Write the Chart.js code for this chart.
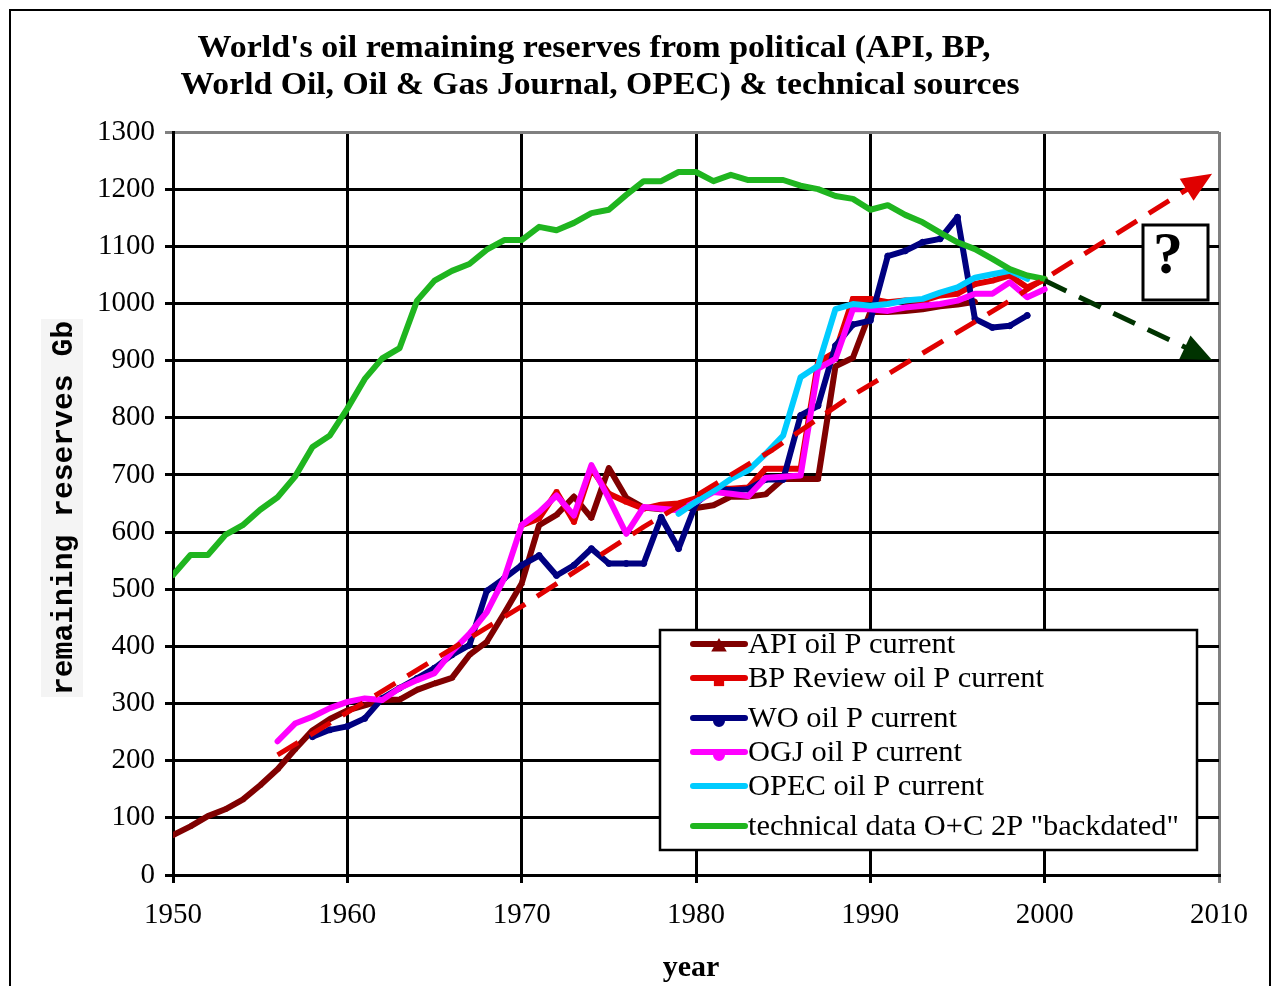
<!DOCTYPE html>
<html>
<head>
<meta charset="utf-8">
<script src="https://cdn.jsdelivr.net/npm/chart.js@4"></script>
<style>
  body { margin: 0; background: #fff; }
  canvas { display: block; }
</style>
</head>
<body>
<canvas id="oilChart" width="1277" height="986"></canvas>
<script>
// reserves in Gb
const apiYears = [1950,1951,1952,1953,1954,1955,1956,1957,1958,1959,1960,1961,1962,1963,1964,1965,1966,1967,1968,1969,1970,1971,1972,1973,1974,1975,1976,1977,1978,1979,1980,1981,1982,1983,1984,1985,1986,1987,1988,1989,1990,1991,1992,1993,1994,1995,1996];
const apiVals = [70,85,103,115,132,157,185,220,253,273,288,297,306,307,324,335,345,385,408,458,510,612,630,662,625,712,660,643,640,642,642,647,662,662,666,693,693,693,890,905,985,985,987,990,995,998,1003];

const bpYears = [1970,1971,1972,1973,1974,1975,1976,1977,1978,1979,1980,1981,1982,1983,1984,1985,1986,1987,1988,1989,1990,1991,1992,1993,1994,1995,1996,1997,1998,1999,2000];
const bpVals = [612,624,670,618,711,667,653,641,648,650,659,676,676,678,711,711,711,897,915,1008,1008,1002,1005,1005,1014,1017,1034,1040,1049,1028,1042];

const woYears = [1958,1959,1960,1961,1962,1963,1964,1965,1966,1967,1968,1969,1970,1971,1972,1973,1974,1975,1976,1977,1978,1979,1980,1981,1982,1983,1984,1985,1986,1987,1988,1989,1990,1991,1992,1993,1994,1995,1996,1997,1998,1999];
const woVals = [242,254,260,274,309,327,344,362,385,402,497,519,542,559,524,542,571,545,545,545,626,571,650,676,673,675,692,692,804,821,926,963,970,1083,1092,1107,1113,1151,973,958,961,979];

const ogjYears = [1956,1957,1958,1959,1960,1961,1962,1963,1964,1965,1966,1967,1968,1969,1970,1971,1972,1973,1974,1975,1976,1977,1978,1979,1980,1981,1982,1983,1984,1985,1986,1987,1988,1989,1990,1991,1992,1993,1994,1995,1996,1997,1998,1999,2000];
const ogjVals = [234,265,277,292,303,309,306,327,341,353,391,422,460,519,612,635,664,629,717,659,597,644,641,638,653,670,667,663,695,697,699,886,903,990,990,987,993,996,999,1005,1017,1017,1037,1011,1025];

const opecYears = [1979,1980,1981,1982,1983,1984,1985,1986,1987,1988,1989,1990,1991,1992,1993,1994,1995,1996,1997,1998,1999];
const opecVals = [632,653,672,693,708,737,769,871,891,990,999,996,999,1005,1008,1019,1028,1045,1051,1057,1043];

const techYears = [1950,1951,1952,1953,1954,1955,1956,1957,1958,1959,1960,1961,1962,1963,1964,1965,1966,1967,1968,1969,1970,1971,1972,1973,1974,1975,1976,1977,1978,1979,1980,1981,1982,1983,1984,1985,1986,1987,1988,1989,1990,1991,1992,1993,1994,1995,1996,1997,1998,1999,2000];
const techVals = [525,560,560,595,612,639,661,697,749,769,816,868,904,922,1005,1040,1057,1069,1094,1111,1111,1134,1128,1141,1158,1164,1190,1214,1214,1230,1230,1214,1225,1216,1216,1216,1206,1200,1188,1183,1164,1172,1155,1142,1124,1107,1095,1078,1060,1049,1043];

// hand-drawn arrows (last point = arrow tip)
const upYears = [1956,1970,1977,1984.4,1988.8,1997.8,2009.6];
const upVals = [210,470,609,744,836,1001,1227];
const downYears = [2000,2009.6];
const downVals = [1040,901];

const labels = ['API oil P current','BP Review oil P current','WO oil P current','OGJ oil P current','OPEC oil P current','technical data O+C 2P "backdated"'];

const pts = (xs, ys) => xs.map((x, i) => ({ x: x, y: ys[i] }));

const SERIF = '"Liberation Serif", "Times New Roman", serif';

function series(label, xs, ys, color, order, pointStyle, radius) {
    return {
        label: label,
        data: pts(xs, ys),
        borderColor: color,
        backgroundColor: color,
        borderWidth: 6,
        pointStyle: pointStyle || 'circle',
        pointRadius: radius || 0,
        pointBorderWidth: 1,
        order: order,
        tension: 0
    };
}

function arrow(xs, ys, color, order) {
    return {
        label: '',
        isArrow: true,
        data: pts(xs, ys),
        borderColor: color,
        backgroundColor: color,
        borderWidth: 5,
        borderDash: [24, 14],
        borderCapStyle: 'butt',
        pointRadius: 0,
        order: order
    };
}

const datasets = [
    series(labels[0], apiYears, apiVals, '#800000', 7, 'triangle', 3),
    series(labels[1], bpYears, bpVals, '#e00000', 6, 'rect', 3),
    series(labels[2], woYears, woVals, '#000080', 5, 'circle', 3),
    series(labels[3], ogjYears, ogjVals, '#ff00ff', 4, 'circle', 2),
    series(labels[4], opecYears, opecVals, '#00ccff', 3),
    series(labels[5], techYears, techVals, '#1fb51f', 2),
    arrow(upYears, upVals, '#e00000', 1),
    arrow(downYears, downVals, '#003300', 1)
];

function fitText(ctx, text, cx, cy, width) {
    const w = ctx.measureText(text).width;
    ctx.save();
    ctx.translate(cx, cy);
    ctx.scale(width / w, 1);
    ctx.fillText(text, 0, 0);
    ctx.restore();
}

const decor = {
    id: 'decor',
    beforeDraw(chart) {
        const ctx = chart.ctx;
        ctx.save();
        ctx.fillStyle = '#fff';
        ctx.fillRect(0, 0, chart.width, chart.height);
        // grey strip behind the y title
        ctx.fillStyle = '#f4f4f4';
        ctx.fillRect(41, 319, 42, 378);
        ctx.restore();
    },
    afterDatasetsDraw(chart) {
        // arrow heads at the end of the hand-drawn arrows
        const ctx = chart.ctx;
        const xs = chart.scales.x, ys = chart.scales.y;
        chart.data.datasets.forEach(ds => {
            if (!ds.isArrow) return;
            const n = ds.data.length;
            const tip = ds.data[n - 1], prev = ds.data[n - 2];
            const tx = xs.getPixelForValue(tip.x), ty = ys.getPixelForValue(tip.y);
            const px = xs.getPixelForValue(prev.x), py = ys.getPixelForValue(prev.y);
            const a = Math.atan2(ty - py, tx - px);
            const len = 30, half = 13;
            ctx.save();
            ctx.translate(tx, ty);
            ctx.rotate(a);
            ctx.fillStyle = ds.borderColor;
            ctx.beginPath();
            ctx.moveTo(0, 0);
            ctx.lineTo(-len, -half);
            ctx.lineTo(-len, half);
            ctx.closePath();
            ctx.fill();
            ctx.restore();
        });
    },
    afterDraw(chart) {
        const ctx = chart.ctx;
        ctx.save();
        // outer frame
        ctx.strokeStyle = '#000';
        ctx.lineWidth = 2;
        ctx.strokeRect(10, 10, 1260, 990);

        // title
        ctx.fillStyle = '#000';
        ctx.textAlign = 'center';
        ctx.textBaseline = 'middle';
        ctx.font = 'bold 31px ' + SERIF;
        fitText(ctx, "World's oil remaining reserves from political (API, BP,", 594, 49, 793);
        fitText(ctx, 'World Oil, Oil & Gas Journal, OPEC) & technical sources', 600, 86, 839);

        // axis titles
        ctx.font = 'bold 30px ' + SERIF;
        ctx.fillText('year', 691, 968);
        ctx.save();
        ctx.translate(64, 508);
        ctx.rotate(-Math.PI / 2);
        ctx.font = 'bold 30px "Liberation Mono", "DejaVu Sans Mono", monospace';
        fitText(ctx, 'remaining reserves Gb', 0, 0, 374);
        ctx.restore();

        // question box
        ctx.fillStyle = '#fff';
        ctx.fillRect(1143, 225, 65, 75);
        ctx.lineWidth = 3;
        ctx.strokeRect(1143, 225, 65, 75);
        ctx.fillStyle = '#000';
        ctx.font = 'bold 60px ' + SERIF;
        ctx.fillText('?', 1168, 257);

        // legend
        ctx.fillStyle = '#fff';
        ctx.fillRect(660, 630, 537, 220);
        ctx.lineWidth = 2.5;
        ctx.strokeRect(660, 630, 537, 220);
        const rows = [644, 678, 718, 752, 786, 826];
        ctx.textAlign = 'left';
        ctx.font = '29px ' + SERIF;
        rows.forEach((y, i) => {
            const ds = chart.data.datasets[i];
            ctx.strokeStyle = ds.borderColor;
            ctx.lineWidth = 6;
            ctx.lineCap = 'round';
            ctx.beginPath();
            ctx.moveTo(693, y);
            ctx.lineTo(745, y);
            ctx.stroke();
            if (ds.pointRadius > 0) {
                ctx.fillStyle = ds.borderColor;
                Chart.helpers.drawPoint(ctx, { pointStyle: ds.pointStyle, radius: 3, borderWidth: 1, rotation: 0 }, 719, y + 3);
            }
            ctx.fillStyle = '#000';
            ctx.save();
            ctx.translate(748, y + 1);
            ctx.scale(1.05, 1);
            ctx.fillText(labels[i], 0, 0);
            ctx.restore();
        });
        ctx.restore();
    }
};

const gridColor = (edge) => (c) => c.tick && c.tick.value === edge ? '#808080' : '#000';

new Chart(document.getElementById('oilChart'), {
    type: 'line',
    data: { datasets: datasets },
    options: {
        responsive: false,
        animation: false,
        layout: { padding: { left: 0, right: 58, top: 132, bottom: 0 } },
        plugins: { legend: { display: false }, tooltip: { enabled: false } },
        elements: { line: { borderCapStyle: 'round', borderJoinStyle: 'round' } },
        scales: {
            x: {
                type: 'linear',
                min: 1950,
                max: 2010,
                afterFit: s => { s.height = 111; },
                ticks: { stepSize: 10, color: '#000', padding: 15, maxRotation: 0,
                    font: { family: SERIF, size: 29 }, callback: v => String(v) },
                grid: { color: gridColor(2010), lineWidth: 3, tickLength: 8 },
                border: { color: '#000', width: 3 }
            },
            y: {
                min: 0,
                max: 1300,
                afterFit: s => { s.width = 173; },
                ticks: { stepSize: 100, color: '#000', padding: 10,
                    font: { family: SERIF, size: 29 }, callback: v => String(v) },
                grid: { color: gridColor(1300), lineWidth: 3, tickLength: 8 },
                border: { color: '#000', width: 3 }
            }
        }
    },
    plugins: [decor]
});
</script>
</body>
</html>
